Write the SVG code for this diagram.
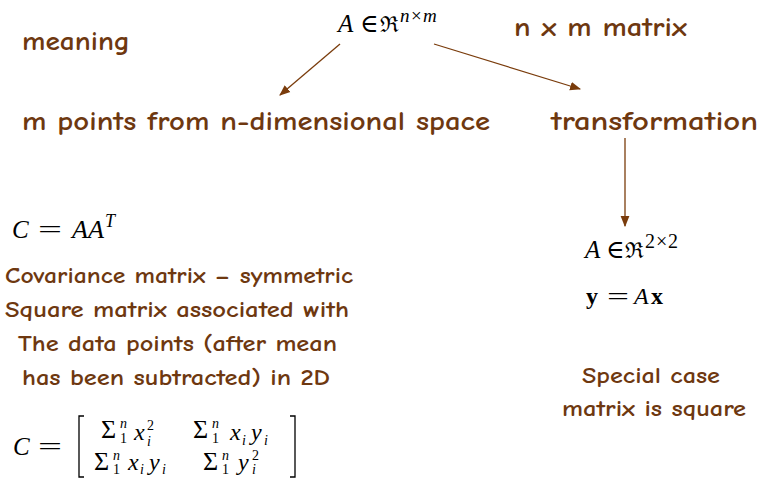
<svg xmlns="http://www.w3.org/2000/svg" width="774" height="478" viewBox="0 0 774 478">
<style>
.lbl{font-family:"Comic Neue","Lato","DejaVu Sans",sans-serif;fill:#6e3810;font-weight:bold}
.big{font-size:27px}
.mid{font-size:22px}
.m{font-family:"Liberation Serif","DejaVu Serif",serif;fill:#000}
.i{font-style:italic}
.fr{font-family:"DejaVu Serif",serif}
.s{font-size:14px}
.con{stroke:#7a3c0c;stroke-width:1.3;fill:none}
.br{stroke:#000;stroke-width:1.3;fill:none}
</style>
<defs>
<marker id="ah" viewBox="0 0 10 10" refX="9" refY="5" markerWidth="11" markerHeight="11" markerUnits="userSpaceOnUse" orient="auto">
<path d="M0,1 L10,5 L0,9 Z" fill="#7a3c0c"/>
</marker>
</defs>
<rect width="774" height="478" fill="#fff"/>
<g id="connectors">
<line class="con" x1="340" y1="44" x2="280" y2="95" marker-end="url(#ah)"/>
<line class="con" x1="434" y1="44" x2="580" y2="89" marker-end="url(#ah)"/>
<line class="con" x1="625" y1="138" x2="625" y2="226" marker-end="url(#ah)"/>
</g>
<g id="matrixA">
<text class="m" font-size="25"><tspan class="i" x="338" y="32">A</tspan><tspan x="360" y="32">∈</tspan><tspan class="fr" font-size="22" x="380" y="32">ℜ</tspan><tspan class="i" font-size="19" x="400" y="22">n</tspan><tspan font-size="19" x="411" y="22">×</tspan><tspan class="i" font-size="19" x="423" y="22">m</tspan></text>
</g>
<g id="meaning"><text class="lbl big" x="22" y="50" textLength="108" lengthAdjust="spacingAndGlyphs">meaning</text></g>
<g id="nxm"><text class="lbl big" x="514" y="36" textLength="173" lengthAdjust="spacingAndGlyphs">n x m matrix</text></g>
<g id="points"><text class="lbl big" x="22" y="130" textLength="468" lengthAdjust="spacingAndGlyphs">m points from n-dimensional space</text></g>
<g id="transformation"><text class="lbl big" x="551" y="130" textLength="207" lengthAdjust="spacingAndGlyphs">transformation</text></g>
<g id="covariance">
<text class="m" font-size="25"><tspan class="i" x="12" y="238">C</tspan><tspan x="38" y="238" textLength="24" lengthAdjust="spacingAndGlyphs">=</tspan><tspan class="i" x="72" y="238" textLength="32" lengthAdjust="spacingAndGlyphs">AA</tspan><tspan class="i" font-size="18" x="105" y="227">T</tspan></text>
<text class="lbl mid" x="5" y="283" textLength="348" lengthAdjust="spacingAndGlyphs">Covariance matrix – symmetric</text>
<text class="lbl mid" x="5" y="317" textLength="344" lengthAdjust="spacingAndGlyphs">Square matrix associated with</text>
<text class="lbl mid" x="18" y="351" textLength="319" lengthAdjust="spacingAndGlyphs">The data points (after mean</text>
<text class="lbl mid" x="22" y="385" textLength="308" lengthAdjust="spacingAndGlyphs">has been subtracted) in 2D</text>
</g>
<g id="covmatrix">
<text class="m" font-size="25"><tspan class="i" x="13" y="455">C</tspan><tspan x="38" y="455" textLength="24" lengthAdjust="spacingAndGlyphs">=</tspan></text>
<path class="br" d="M84,416 L79,416 L79,477 L84,477"/>
<path class="br" d="M290,416 L295,416 L295,477 L290,477"/>
<text class="m" font-size="24"><tspan font-size="26" x="101" y="438">Σ</tspan><tspan class="i s" x="120" y="428">n</tspan><tspan class="s" x="120" y="443">1</tspan><tspan class="i" x="134" y="440">x</tspan><tspan class="s" x="147" y="430">2</tspan><tspan class="i s" x="147" y="446">i</tspan></text>
<text class="m" font-size="24"><tspan font-size="26" x="193" y="438">Σ</tspan><tspan class="i s" x="212" y="428">n</tspan><tspan class="s" x="212" y="443">1</tspan><tspan class="i" x="230" y="440">x</tspan><tspan class="i s" x="242" y="445">i</tspan><tspan class="i" x="251" y="440">y</tspan><tspan class="i s" x="264" y="445">i</tspan></text>
<text class="m" font-size="24"><tspan font-size="26" x="94" y="470">Σ</tspan><tspan class="i s" x="113" y="460">n</tspan><tspan class="s" x="113" y="474">1</tspan><tspan class="i" x="128" y="470">x</tspan><tspan class="i s" x="140" y="474">i</tspan><tspan class="i" x="149" y="470">y</tspan><tspan class="i s" x="162" y="474">i</tspan></text>
<text class="m" font-size="24"><tspan font-size="26" x="203" y="470">Σ</tspan><tspan class="i s" x="222" y="460">n</tspan><tspan class="s" x="222" y="474">1</tspan><tspan class="i" x="238" y="470">y</tspan><tspan class="s" x="252" y="460">2</tspan><tspan class="i s" x="252" y="474">i</tspan></text>
</g>
<g id="square">
<text class="m" font-size="25"><tspan class="i" x="585" y="258">A</tspan><tspan x="606" y="258">∈</tspan><tspan class="fr" font-size="22" x="625" y="258">ℜ</tspan><tspan font-size="20" x="645" y="248">2</tspan><tspan font-size="20" x="656" y="248">×</tspan><tspan font-size="20" x="668" y="248">2</tspan></text>
<text class="m" font-size="24"><tspan font-weight="bold" x="586" y="304">y</tspan><tspan x="607" y="304" textLength="22" lengthAdjust="spacingAndGlyphs">=</tspan><tspan class="i" x="634" y="304">A</tspan><tspan font-weight="bold" x="651" y="304">x</tspan></text>
<text class="lbl mid" x="582" y="383" textLength="138" lengthAdjust="spacingAndGlyphs">Special case</text>
<text class="lbl mid" x="562" y="416" textLength="184" lengthAdjust="spacingAndGlyphs">matrix is square</text>
</g>
</svg>
